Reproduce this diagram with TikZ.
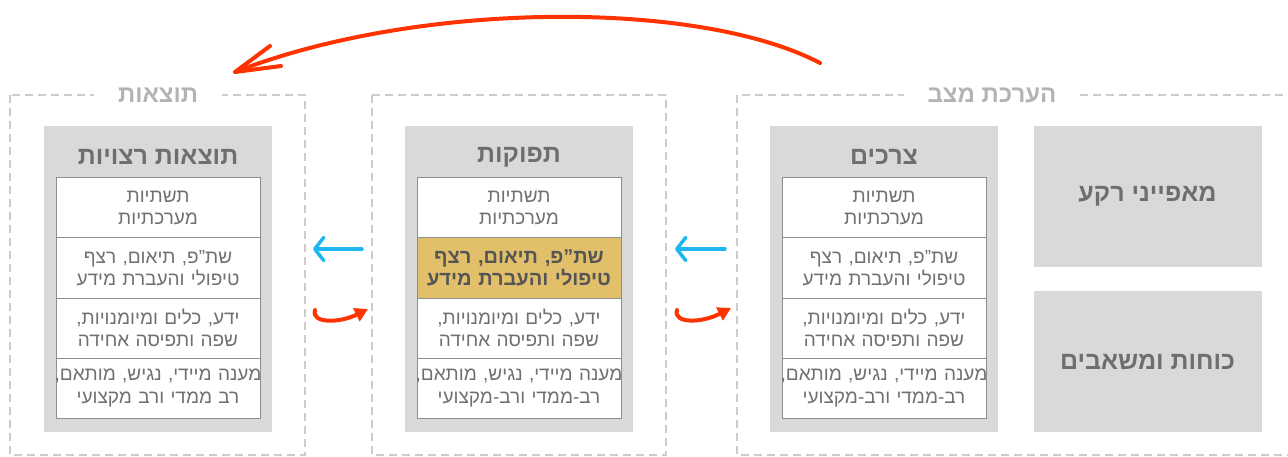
\documentclass[tikz,border=0pt]{standalone}
\usepackage{fontspec}
\newfontfamily\hebfont[Script=Hebrew]{Liberation Sans}
\TeXXeTstate=1
\usetikzlibrary{arrows.meta}
\newcommand{\heb}[1]{\beginR #1\endR}
\newcommand{\hebc}[1]{\makebox[204pt]{\beginR #1\endR}}
\definecolor{dashgrey}{HTML}{CCCCCC}
\definecolor{frametext}{HTML}{B3B3B3}
\definecolor{boxfill}{HTML}{D8D9DB}
\definecolor{boxtext}{HTML}{6E6E6E}
\definecolor{celltext}{HTML}{707070}
\definecolor{cellborder}{HTML}{8E8E8E}
\definecolor{hilite}{HTML}{E2BF6A}
\definecolor{hilitetext}{HTML}{555555}
\definecolor{arrowred}{HTML}{FF3300}
\definecolor{arrowblue}{HTML}{1EB6F0}
\tikzset{
  frame/.style={draw=dashgrey, line width=2pt, dash pattern=on 8pt off 5pt},
  frametitle/.style={fill=white, inner xsep=24pt, inner ysep=4pt, text=frametext, font=\hebfont\bfseries\fontsize{24}{28}\selectfont},
  greybox/.style={fill=boxfill, draw=none, inner sep=0pt, minimum width=228pt},
  boxtitle/.style={text=boxtext, font=\hebfont\bfseries\fontsize{25}{28}\selectfont, inner sep=0pt},
  cell/.style={draw=cellborder, line width=1pt, fill=white, text width=204pt, minimum height=60pt, inner sep=0pt, align=center, text=celltext, font=\hebfont\fontsize{19}{22.5}\selectfont},
  hicell/.style={cell, fill=hilite, text=hilitetext, font=\hebfont\bfseries\fontsize{20}{22.5}\selectfont},
  bigred/.style={draw=arrowred, line width=4pt, line cap=round, line join=round},
  smallred/.style={draw=arrowred, line width=4pt, line cap=round, -{Triangle[length=13pt 0, width=14pt 0]}},
  bluearrow/.style={draw=arrowblue, line width=3.5pt, line cap=round, -{Straight Barb[length=9pt 0, width=23pt 0, round]}}
}
\begin{document}
\begin{tikzpicture}[x=1pt,y=-1pt]
\useasboundingbox (0,0) rectangle (1288,457);
% dashed frames
\draw[frame] (10,95) rectangle (305,455);
\draw[frame] (372,95) rectangle (666,455);
\draw[frame] (737,95) rectangle (1300,455);
\node[frametitle] (t1) at (158,95) {\heb{תוצאות}};
\node[frametitle] (t3) at (992,95) {\heb{הערכת מצב}};
% grey boxes
\node[greybox, minimum height=306pt] (g1) at (158,279) {};
\node[greybox, minimum height=306pt] (g2) at (519,279) {};
\node[greybox, minimum height=306pt] (g3) at (884,279) {};
\node[greybox, minimum height=141pt] (g4) at (1147.5,196.5) {};
\node[greybox, minimum height=141pt] (g5) at (1147.5,361.5) {};
\node[boxtitle] (h1) at (158,157) {\heb{תוצאות רצויות}};
\node[boxtitle] (h2) at (519,157) {\heb{תפוקות}};
\node[boxtitle] (h3) at (884,157) {\heb{צרכים}};
\node[boxtitle] (h4) at (1147.5,196.5) {\heb{מאפייני רקע}};
\node[boxtitle] (h5) at (1147.5,361.5) {\heb{כוחות ומשאבים}};
% cells column 1
\node[cell] (a1) at (158,208) {\hebc{תשתיות}\\\hebc{מערכתיות}};
\node[cell] (a2) at (158,268) {\hebc{שת”פ, תיאום, רצף}\\\hebc{טיפולי והעברת מידע}};
\node[cell] (a3) at (158,328) {\hebc{ידע, כלים ומיומנויות,}\\\hebc{שפה ותפיסה אחידה}};
\node[cell] (a4) at (158,388) {\hebc{מענה מיידי, נגיש, מותאם,}\\\hebc{רב ממדי ורב מקצועי}};
% cells column 2
\node[cell] (b1) at (519,208) {\hebc{תשתיות}\\\hebc{מערכתיות}};
\node[hicell] (b2) at (519,268) {\hebc{שת”פ, תיאום, רצף}\\\hebc{טיפולי והעברת מידע}};
\node[cell] (b3) at (519,328) {\hebc{ידע, כלים ומיומנויות,}\\\hebc{שפה ותפיסה אחידה}};
\node[cell] (b4) at (519,388) {\hebc{מענה מיידי, נגיש, מותאם,}\\\hebc{רב-ממדי ורב-מקצועי}};
% cells column 3
\node[cell] (c1) at (884,208) {\hebc{תשתיות}\\\hebc{מערכתיות}};
\node[cell] (c2) at (884,268) {\hebc{שת”פ, תיאום, רצף}\\\hebc{טיפולי והעברת מידע}};
\node[cell] (c3) at (884,328) {\hebc{ידע, כלים ומיומנויות,}\\\hebc{שפה ותפיסה אחידה}};
\node[cell] (c4) at (884,388) {\hebc{מענה מיידי, נגיש, מותאם,}\\\hebc{רב-ממדי ורב-מקצועי}};
% arrow coordinates
\coordinate (bl1s) at (362,249);
\coordinate (bl1e) at (313,249);
\coordinate (bl2s) at (725,249);
\coordinate (bl2e) at (675,249);
\coordinate (rs1s) at (315,310);
\coordinate (rs1e) at (368,309);
\coordinate (rs2s) at (677,310);
\coordinate (rs2e) at (731,308);
\coordinate (bigs) at (820,63);
\coordinate (bige) at (235,72);
\coordinate (barb1) at (270,46);
\coordinate (barb2) at (281,66);
% blue arrows
\draw[bluearrow] (bl1s) -- (bl1e);
\draw[bluearrow] (bl2s) -- (bl2e);
% small red arrows
\draw[smallred] (rs1s) .. controls (311,324) and (340,323) .. (rs1e);
\draw[smallred] (rs2s) .. controls (673,324) and (702,323) .. (rs2e);
% big red arrow
\draw[bigred] (bigs) .. controls (700,0) and (420,0) .. (bige);
\draw[bigred] (barb1) -- (bige) -- (barb2);
\end{tikzpicture}
\end{document}
